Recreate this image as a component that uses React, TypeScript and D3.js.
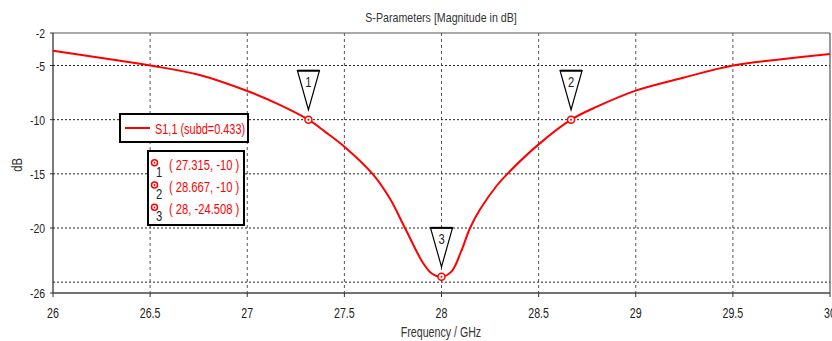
import * as d3 from "d3";

// S1,1 curve (GHz, dB)
const freqs = [26, 26.25, 26.5, 26.75, 27, 27.17, 27.315, 27.4, 27.5, 27.645, 27.735, 27.812, 27.906, 27.95, 28, 28.052, 28.1, 28.147, 28.198, 28.284, 28.339, 28.5, 28.667, 28.8, 29, 29.25, 29.5, 29.75, 30];
const s11 = [-3.63, -4.3, -5.0, -5.85, -7.35, -8.65, -10, -11.1, -12.49, -15, -17.3, -20, -23.26, -24.2, -24.508, -24.0, -22.2, -20, -18.3, -16.1, -15, -12.28, -10, -8.8, -7.32, -6.1, -5.0, -4.43, -3.94];

const xTicks = [26, 26.5, 27, 27.5, 28, 28.5, 29, 29.5, 30];
const yTicks = [-2, -5, -10, -15, -20, -26];
const yGrid = [-5, -10, -15, -20, -25];

const markerIds = ["1", "2", "3"];
const markerF = [27.315, 28.667, 28];
const markerDb = [-10, -10, -24.508];
const markerText = ["( 27.315, -10 )", "( 28.667, -10 )", "( 28, -24.508 )"];

const W = 832;
const H = 341;
const m = { left: 53, right: 2, top: 33, bottom: 48 };
const font = "'Liberation Sans', Arial, sans-serif";

// narrow text: the face is squeezed horizontally by sx
function T({ x, y, children, anchor = "start", fill = "#222", size = 13, sx = 0.82, rotate = 0 }: {
  x: number; y: number; children: React.ReactNode; anchor?: string; fill?: string; size?: number; sx?: number; rotate?: number;
}) {
  return (
    <g transform={`translate(${x},${y}) rotate(${rotate}) scale(${sx},1)`}>
      <text x={0} y={0} textAnchor={anchor as any} fontSize={size} fill={fill}>{children}</text>
    </g>
  );
}

export default function App() {
  const x = d3.scaleLinear().domain([26, 30]).range([m.left, W - m.right]);
  const y = d3.scaleLinear().domain([-2, -26]).range([m.top, H - m.bottom]);

  const pts = freqs.map((f, i) => [f, s11[i]] as [number, number]);
  const line = d3
    .line<[number, number]>()
    .x((d) => x(d[0]))
    .y((d) => y(d[1]))
    .curve(d3.curveCatmullRom.alpha(0.5));

  const x0 = x(26), x1 = x(30), y0 = y(-2), y1 = y(-26);

  return (
    <svg width={W} height={H} style={{ position: "absolute", left: 0, top: 0, background: "#fff" }} fontFamily={font}>
      <T x={441} y={22} anchor="middle" fill="#333">S-Parameters [Magnitude in dB]</T>

      {/* grid */}
      {xTicks.slice(1, -1).map((t) => (
        <line key={"gx" + t} x1={x(t)} x2={x(t)} y1={y0} y2={y1} stroke="#555" strokeDasharray="3,3" />
      ))}
      {yGrid.map((t) => (
        <line key={"gy" + t} x1={x0} x2={x1} y1={y(t)} y2={y(t)} stroke="#222" strokeDasharray="2,2" />
      ))}

      {/* frame */}
      <line x1={x0} x2={x1} y1={y0} y2={y0} stroke="#555" strokeWidth={1.2} />
      <line x1={x1} x2={x1} y1={y0} y2={y1} stroke="#555" strokeWidth={1.2} />
      <line x1={x0} x2={x0} y1={y0} y2={y1} stroke="#222" strokeWidth={1.2} />
      <line x1={x0} x2={x1} y1={y1} y2={y1} stroke="#444" strokeWidth={1.6} />

      {/* ticks */}
      {xTicks.map((t) => (
        <g key={"tx" + t}>
          <line x1={x(t)} x2={x(t)} y1={y1} y2={y1 + 4} stroke="#333" />
          <T x={x(t)} y={y1 + 25} anchor="middle" size={15} sx={0.71}>{t}</T>
        </g>
      ))}
      {yTicks.map((t) => (
        <g key={"ty" + t}>
          <line x1={x0 - 3} x2={x0} y1={y(t)} y2={y(t)} stroke="#333" />
          <T x={x0 - 8} y={y(t) + 5} anchor="end" sx={0.8}>{t}</T>
        </g>
      ))}

      <T x={441} y={337} anchor="middle" fill="#333" size={14} sx={0.76}>Frequency / GHz</T>
      <T x={22} y={165} anchor="middle" fill="#333" size={14} sx={0.8} rotate={-90}>dB</T>

      {/* curve */}
      <path d={line(pts) ?? ""} fill="none" stroke="#ff0000" strokeWidth={2} />

      {/* markers */}
      {markerIds.map((id, i) => {
        const px = x(markerF[i]);
        const py = y(markerDb[i]);
        const tipY = py - 10;
        const topY = tipY - 39;
        return (
          <g key={"mk" + id}>
            <path d={`M${px - 11},${topY}L${px + 11},${topY}L${px},${tipY}Z`} fill="#fff" stroke="#000" strokeWidth={1.2} />
            <line x1={px - 11} x2={px + 11} y1={topY} y2={topY} stroke="#000" strokeWidth={2} />
            <T x={px} y={topY + 16} anchor="middle" size={14} sx={0.8}>{id}</T>
            <circle cx={px} cy={py} r={3.5} fill="#fff" stroke="#ff0000" strokeWidth={1.5} />
            <circle cx={px} cy={py} r={1} fill="#ff0000" />
          </g>
        );
      })}

      {/* legend */}
      <rect x={120} y={114} width={128} height={28} fill="#fff" stroke="#000" strokeWidth={2} />
      <line x1={125} x2={150} y1={128} y2={128} stroke="#ff0000" strokeWidth={2} />
      <T x={155} y={134} fill="#ff0000" size={14} sx={0.78}>S1,1 (subd=0.433)</T>

      <rect x={148} y={151} width={96} height={74} fill="#fff" stroke="#000" strokeWidth={2} />
      {markerIds.map((id, i) => {
        const cy = 162.7 + i * 22.3;
        return (
          <g key={"lg" + id}>
            <circle cx={154.5} cy={cy} r={3} fill="#fff" stroke="#ff0000" strokeWidth={1.5} />
            <circle cx={154.5} cy={cy} r={0.9} fill="#ff0000" />
            <T x={156} y={cy + 14} size={14} sx={0.8}>{id}</T>
            <T x={169} y={cy + 7} fill="#ff0000" size={14} sx={0.8}>{markerText[i]}</T>
          </g>
        );
      })}
    </svg>
  );
}
